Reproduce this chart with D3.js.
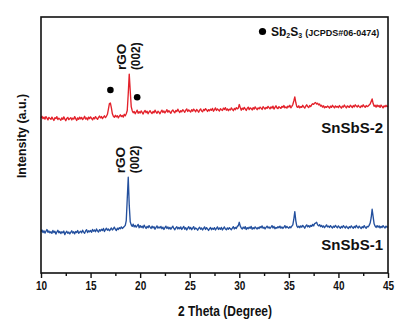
<!DOCTYPE html>
<html><head><meta charset="utf-8">
<script src="https://cdn.jsdelivr.net/npm/d3@7"></script>
<style>
html,body{margin:0;padding:0;background:#fff;}
svg text{font-family:"Liberation Sans",Arial,sans-serif;font-weight:bold;fill:#111;}
</style></head>
<body>
<svg id="c" width="417" height="331"></svg>
<script>
// 2-theta grid: 10.0 .. 45.0 step 0.1
const thetaStart = 10.0, thetaStep = 0.1;
const xTicks = [10, 15, 20, 25, 30, 35, 40, 45];
const xMinorTicks = [12.5, 17.5, 22.5, 27.5, 32.5, 37.5, 42.5];
const seriesNames = ["SnSbS-2", "SnSbS-1"];
const seriesColors = ["#e3222b", "#24509e"];
const rgoPeaks = [18.9, 18.8];
const sb2s3Peaks = [17.0, 19.7];

const snsbs2 = [
606,612,603,609,601,611,605,598,608,604,
600,609,602,596,607,603,611,599,605,601,
597,606,600,610,602,595,604,608,599,603,
607,598,605,601,611,603,596,606,600,609,
602,608,599,604,612,601,606,598,609,603,
610,604,598,607,602,611,605,600,608,613,
606,611,603,609,614,607,612,620,640,662,
664,645,622,612,608,616,610,614,606,613,
618,611,615,609,620,614,622,635,700,777,
712,650,634,626,631,622,629,636,624,630,
625,633,627,621,630,635,626,632,622,629,
634,627,623,631,626,636,629,624,632,628,
622,630,636,627,633,625,631,638,628,634,
629,624,633,637,630,626,635,631,640,632,
627,634,630,638,633,628,636,641,631,637,
633,629,638,632,640,635,630,639,634,628,
636,641,633,630,639,635,642,637,631,638,
634,640,636,643,632,638,645,635,641,637,
633,642,638,635,644,639,646,636,641,634,
640,637,645,639,634,643,638,646,641,644,
658,646,636,644,639,647,641,635,643,648,
638,645,642,637,646,640,649,643,638,645,
641,648,644,639,650,645,640,647,643,651,
646,641,649,644,652,640,647,653,645,642,
650,646,643,651,647,654,645,649,644,652,
648,655,645,651,658,672,688,666,650,647,
653,645,650,647,655,649,644,652,657,650,
646,654,650,657,661,659,664,666,660,663,
657,660,652,655,648,653,645,650,647,652,
649,644,652,647,655,650,645,653,648,651,
646,654,649,644,652,648,656,650,645,653,
650,647,655,651,646,654,649,657,652,648,
655,650,646,653,649,657,651,647,654,650,
652,656,660,670,680,662,651,655,648,656,
650,654,647,656,651,645,653,649,655,650,
652];

const snsbs1 = [
162,168,158,165,156,163,170,159,164,157,
161,155,166,158,163,152,160,167,157,162,
154,161,157,164,150,158,163,155,160,153,
159,165,156,161,153,162,158,166,155,160,
163,157,167,160,155,164,169,158,165,161,
166,159,170,163,168,161,172,165,160,169,
164,171,166,174,162,169,175,167,172,165,
170,176,168,173,179,171,166,175,170,177,
173,180,174,178,182,186,205,290,374,265,
200,188,182,191,180,186,179,184,190,177,
185,178,183,176,187,180,174,182,177,185,
179,174,183,176,181,171,178,184,175,180,
176,182,173,179,170,177,183,174,180,172,
178,171,177,183,174,169,176,181,172,178,
173,180,170,176,182,171,177,168,175,181,
172,178,169,175,181,170,176,173,167,174,
179,171,176,168,174,180,170,177,172,166,
173,178,169,175,171,177,168,174,180,170,
176,171,178,168,174,180,172,169,176,171,
177,173,169,175,181,172,178,174,182,185,
198,183,176,172,179,174,181,170,177,173,
179,175,182,171,177,173,180,176,172,178,
174,181,177,184,175,179,172,178,183,176,
180,174,179,185,176,182,173,178,175,181,
177,183,175,180,174,179,185,176,182,178,
175,181,177,183,188,210,240,205,184,178,
183,177,184,179,186,181,175,183,188,180,
185,179,186,182,190,184,193,195,198,188,
184,189,181,186,179,184,177,182,188,180,
183,178,185,180,176,183,179,186,181,177,
184,179,175,182,177,185,180,176,183,178,
174,181,177,184,179,175,182,177,186,180,
176,183,178,174,181,177,185,179,175,182,
180,186,195,215,249,220,192,183,178,185,
179,184,176,182,178,185,180,176,183,179,
180];

const series = [snsbs2, snsbs1];

const svg = d3.select("#c");
const L = 41, R = 388, T = 17, B = 273;
const x = d3.scaleLinear().domain([10, 45]).range([L, R]);
const y = d3.scaleLinear().domain([0, 1000]).range([B, T]);
const thetaAt = i => thetaStart + i * thetaStep;

// condense a text element horizontally
function condense(sel, factor) {
  sel.each(function () {
    const w = this.getComputedTextLength();
    d3.select(this).attr("textLength", w * factor).attr("lengthAdjust", "spacingAndGlyphs");
  });
}

const line = d3.line().x((d, i) => x(thetaAt(i))).y(d => y(d));

series.forEach((s, k) => {
  svg.append("path").datum(s)
    .attr("d", line)
    .attr("fill", "none")
    .attr("stroke", seriesColors[k])
    .attr("stroke-width", 1.35)
    .attr("stroke-linejoin", "round");
});

// frame
svg.append("rect").attr("x", L).attr("y", T).attr("width", R - L).attr("height", B - T)
  .attr("fill", "none").attr("stroke", "#111").attr("stroke-width", 1.6);

// x axis
const ax = svg.append("g").attr("transform", `translate(0,${B})`)
  .call(d3.axisBottom(x).tickValues(xTicks).tickSize(5).tickPadding(3).tickFormat(d3.format("d")));
ax.select(".domain").remove();
ax.selectAll(".tick line").attr("stroke", "#111").attr("stroke-width", 1.4);
ax.selectAll(".tick text").style("font-size", "12.5px").attr("fill", "#111").call(condense, 0.8);
const axm = svg.append("g").attr("transform", `translate(0,${B})`)
  .call(d3.axisBottom(x).tickValues(xMinorTicks).tickSize(3).tickFormat(""));
axm.select(".domain").remove();
axm.selectAll(".tick line").attr("stroke", "#111").attr("stroke-width", 1.4);

// axis titles
svg.append("text").attr("x", 225).attr("y", 316)
  .attr("text-anchor", "middle").style("font-size", "15px").text("2 Theta (Degree)").call(condense, 0.8);
svg.append("text").attr("transform", "translate(26,136) rotate(-90)")
  .attr("text-anchor", "middle").style("font-size", "13.5px").text("Intensity (a.u.)").call(condense, 0.92);

// rGO (002) labels
rgoPeaks.forEach((p, k) => {
  const top = y(d3.max(series[k]));
  const g = svg.append("g").attr("transform", `translate(${x(p)},${top - 4}) rotate(-90)`);
  g.append("text").attr("x", 0).attr("y", -8).attr("dy", "0.35em")
    .style("font-size", "13.5px").text("rGO");
  g.append("text").attr("x", 0).attr("y", 6.5).attr("dy", "0.35em")
    .style("font-size", "13.5px").text("(002)").call(condense, 0.88);
});

// Sb2S3 markers
sb2s3Peaks.forEach(p => {
  const i = Math.round((p - thetaStart) / thetaStep);
  svg.append("circle").attr("cx", x(p)).attr("cy", y(snsbs2[i]) - 13).attr("r", 3.3).attr("fill", "#000");
});

// series labels
svg.append("text").attr("x", 383).attr("y", 133).attr("text-anchor", "end").style("font-size", "15px").text(seriesNames[0]);
svg.append("text").attr("x", 383).attr("y", 250).attr("text-anchor", "end").style("font-size", "15px").text(seriesNames[1]);

// legend
svg.append("circle").attr("cx", 262.5).attr("cy", 31.5).attr("r", 3.6).attr("fill", "#000");
const lt = svg.append("text").attr("x", 271).attr("y", 35.5).style("font-size", "12px");
lt.append("tspan").text("Sb");
lt.append("tspan").attr("dy", 2).style("font-size", "7px").text("2");
lt.append("tspan").attr("dy", -2).text("S");
lt.append("tspan").attr("dy", 2).style("font-size", "7px").text("3");
lt.append("tspan").attr("dy", -2).attr("dx", 3).style("font-size", "9px").text("(JCPDS#06-0474)");
</script>
</body></html>
